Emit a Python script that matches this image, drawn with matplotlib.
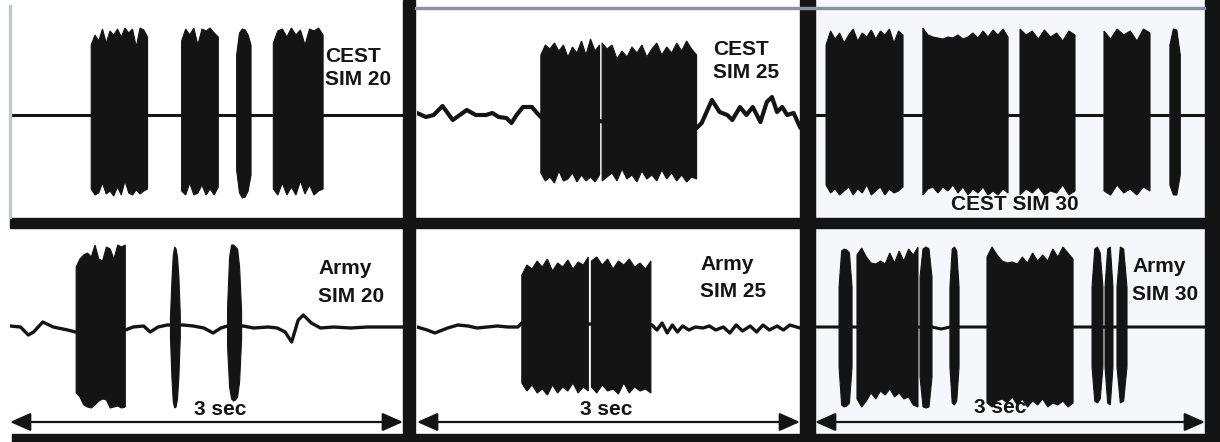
import numpy as np
import matplotlib
matplotlib.use('Agg')
import matplotlib.pyplot as plt
from matplotlib.patches import Rectangle

plt.rcParams['font.family'] = ['Liberation Sans', 'DejaVu Sans']

# time axis of every trace: 0..3 sec, amplitude in arbitrary units (baseline = 0)
# bursts: (start sec, end sec, upper envelope, lower envelope)

# CEST SIM 20
cest20_base_t = [0.0, 3.0]
cest20_base_y = [0, 0]
cest20_bursts = [
    (0.62, 1.05, [70, 80, 74, 86, 72, 84, 80, 86, 78, 87, 82, 86, 68, 87, 85, 78],
                 [74, 80, 78, 68, 79, 76, 81, 72, 80, 66, 78, 80, 75, 79, 76, 74]),
    (1.31, 1.59, [74, 86, 80, 87, 70, 86, 84, 87, 82, 78],
                 [76, 80, 68, 80, 78, 70, 80, 74, 80, 72]),
    (1.73, 1.84, [60, 82, 86, 85, 80, 70], [55, 78, 83, 82, 76, 60]),
    (2.01, 2.39, [72, 84, 86, 78, 87, 80, 85, 70, 86, 84, 87, 80],
                 [74, 80, 68, 80, 72, 80, 66, 79, 70, 80, 76, 74]),
]

# CEST SIM 25
cest25_base_t = [0.0, 0.07, 0.13, 0.20, 0.28, 0.39, 0.46, 0.54, 0.59, 0.64, 0.70, 0.74,
                 0.78, 0.83, 0.90, 0.94, 0.97,
                 2.19, 2.23, 2.31, 2.37, 2.43, 2.47, 2.53, 2.58, 2.63, 2.69, 2.74, 2.78,
                 2.82, 2.86, 2.90, 2.95, 3.0]
cest25_base_y = [2, -2, 0, 9, -5, 5, 0, 0, 2, -2, -3, -8, 0, 8, 8, 2, -2,
                 -13, -8, 15, 3, 0, -5, 8, 0, 8, -7, 13, 18, 3, 8, 0, 2, -12]
cest25_bursts = [
    (0.97, 1.43, [60, 70, 66, 72, 64, 70, 58, 68, 62, 74, 60, 76, 64, 70],
                 [58, 66, 62, 68, 56, 66, 64, 58, 67, 60, 66, 62, 67, 60]),
    (1.45, 2.19, [72, 66, 70, 56, 64, 58, 68, 62, 70, 58, 66, 72, 60, 68, 62, 72, 64, 74, 66, 60],
                 [66, 62, 58, 66, 54, 64, 60, 67, 56, 64, 60, 66, 55, 64, 58, 66, 60, 67, 62, 64]),
]

# CEST SIM 30
cest30_base_t = [0.0, 3.0]
cest30_base_y = [0, 0]
cest30_bursts = [
    (0.085, 0.677, [70, 84, 76, 82, 72, 80, 86, 74, 82, 78, 85, 76, 84, 80, 86, 72, 84, 80],
                   [70, 78, 74, 80, 76, 72, 80, 74, 78, 70, 80, 76, 72, 80, 74, 78, 76, 72]),
    (0.83, 1.485, [87, 80, 78, 77, 76, 78, 77, 80, 76, 78, 82, 77, 84, 78, 85, 80, 86, 78],
                  [80, 74, 72, 78, 72, 76, 70, 78, 72, 80, 74, 78, 72, 80, 76, 80, 74, 78]),
    (1.577, 2.0, [86, 80, 84, 76, 85, 78, 82, 74, 84, 80],
                 [80, 74, 78, 72, 80, 76, 78, 70, 80, 76]),
    (2.223, 2.577, [84, 76, 86, 80, 84, 74, 86, 82], [76, 80, 70, 78, 74, 80, 72, 76]),
    (2.73, 2.81, [70, 86, 85, 60], [70, 80, 80, 60]),
]

# Army SIM 20
army20_base_t = [0.0, 0.08, 0.14, 0.18, 0.25, 0.33, 0.44, 0.50, 0.88, 0.94, 1.02, 1.07,
                 1.13, 1.20, 1.32, 1.40, 1.48, 1.55, 1.61, 1.66, 1.78, 1.86, 1.97, 2.04,
                 2.10, 2.15, 2.20, 2.24, 2.30, 2.37, 2.47, 2.60, 2.73, 2.86, 3.0]
army20_base_y = [1, 0, -8, -5, 5, 0, -3, -5, -3, 0, 1, -5,
                 0, 2, 2, 1, -1, -6, -1, 1, 1, -1, 0, -1,
                 -5, -15, 7, 12, 4, -1, 0, -1, 0, 0, 0]
army20_bursts = [
    (0.505, 0.88, [60, 68, 72, 74, 70, 82, 68, 66, 80, 78, 68, 82, 80, 82],
                  [66, 70, 78, 80, 81, 78, 74, 72, 73, 81, 80, 79, 81, 80]),
    (1.225, 1.30, [10, 45, 72, 80, 78, 70, 50, 12], [10, 50, 75, 81, 80, 72, 50, 10]),
    (1.661, 1.768, [20, 70, 82, 82, 80, 78, 60, 15], [20, 60, 72, 74, 73, 70, 55, 12]),
]

# Army SIM 25
army25_base_t = [0.0, 0.08, 0.14, 0.24, 0.32, 0.40, 0.47, 0.55, 0.63, 0.71, 0.79, 0.82,
                 1.84, 1.88, 1.92, 1.96, 2.0, 2.04, 2.08, 2.13, 2.18, 2.24, 2.29, 2.34,
                 2.40, 2.45, 2.50, 2.55, 2.61, 2.66, 2.71, 2.76, 2.82, 2.87, 2.92, 3.0]
army25_base_y = [0, -3, -6, -1, 2, 1, -1, 0, 1, 0, 0, 4,
                 2, -3, 4, -6, 2, -5, 1, -3, 0, -1, 1, -3,
                 0, -6, 2, -4, 1, -5, 2, -3, 1, -3, 2, -1]
army25_bursts = [
    (0.821, 1.342, [52, 62, 58, 66, 60, 68, 56, 64, 60, 67, 58, 65, 62, 70],
                   [56, 64, 58, 66, 62, 68, 58, 66, 60, 64, 56, 66, 60, 64]),
    (1.366, 1.832, [66, 70, 62, 68, 58, 66, 62, 68, 60, 64, 58, 66],
                   [60, 66, 58, 64, 62, 67, 56, 66, 60, 64, 62, 66]),
]

# Army SIM 30
army30_base_t = [0.0, 0.9, 0.97, 1.04, 3.0]
army30_base_y = [0, 0, -2, 0, 0]
army30_bursts = [
    (0.185, 0.285, [40, 76, 78, 77, 74, 40], [40, 78, 80, 79, 76, 40]),
    (0.323, 0.792, [72, 79, 70, 64, 63, 66, 63, 74, 64, 76, 66, 78, 72, 80],
                   [72, 80, 74, 66, 72, 64, 68, 62, 70, 66, 72, 70, 78, 80]),
    (0.808, 0.90, [50, 78, 80, 78, 50], [50, 80, 81, 80, 50]),
    (1.038, 1.108, [40, 78, 80, 76, 40], [40, 76, 78, 74, 40]),
    (1.323, 1.985, [70, 80, 72, 66, 64, 65, 63, 70, 64, 74, 66, 72, 66, 78, 70, 80, 74, 68],
                   [76, 80, 74, 72, 76, 70, 78, 72, 80, 74, 78, 72, 80, 76, 78, 74, 80, 76]),
    (2.131, 2.215, [40, 78, 80, 74, 40], [40, 74, 76, 72, 40]),
    (2.231, 2.292, [40, 78, 80, 40], [40, 76, 78, 40]),
    (2.323, 2.40, [40, 80, 78, 40], [40, 76, 74, 40]),
]

W, H = 1220, 442
INK = '#141414'


def px_rect(x0, y0, x1, y1):
    # pixel box (top-left origin) -> figure fraction rect
    return [x0 / W, 1 - y1 / H, (x1 - x0) / W, (y1 - y0) / H]


def draw_trace(ax, base_t, base_y, bursts, lw):
    ax.plot(base_t, base_y, color=INK, lw=lw, solid_joinstyle='round', zorder=2)
    for t0, t1, tops, bots in bursts:
        tt = np.linspace(t0, t1, len(tops))
        tb = np.linspace(t0, t1, len(bots))
        xs = np.r_[tt, tb[::-1]]
        ys = np.r_[np.array(tops), -np.array(bots)[::-1]]
        ax.fill(xs, ys, color=INK, lw=0.8, ec=INK, zorder=3)


fig = plt.figure(figsize=(12.2, 4.42), dpi=100)
fig.patch.set_facecolor('white')

# (trace data, pixel box, baseline pixel row, line width, tinted background)
panels = [
    (cest20_base_t, cest20_base_y, cest20_bursts, (10, 0, 403, 218), 115, 2.2, False),
    (cest25_base_t, cest25_base_y, cest25_bursts, (417, 0, 800, 218), 115, 3.0, False),
    (cest30_base_t, cest30_base_y, cest30_bursts, (815, 0, 1205, 218), 115, 2.2, True),
    (army20_base_t, army20_base_y, army20_bursts, (10, 228, 403, 434), 327, 2.4, False),
    (army25_base_t, army25_base_y, army25_bursts, (417, 228, 800, 434), 327, 2.4, False),
    (army30_base_t, army30_base_y, army30_bursts, (815, 228, 1205, 434), 327, 2.2, True),
]

axes = []
for bt, by, bursts, box, base_px, lw, tint in panels:
    x0, y0, x1, y1 = box
    ax = fig.add_axes(px_rect(x0, y0, x1, y1))
    ax.set_xlim(0, 3)
    ax.set_ylim(-(y1 - base_px), base_px - y0)
    ax.set_axis_off()
    if tint:
        ax.add_patch(Rectangle((0, 0), 1, 1, transform=ax.transAxes,
                               color='#f6f7fa', zorder=0))
    draw_trace(ax, bt, by, bursts, lw)
    axes.append(ax)

# 3 sec scale arrows on the bottom row
for ax in axes[3:]:
    ax.annotate('', xy=(3.0, -95), xytext=(0.0, -95),
                arrowprops=dict(arrowstyle='<|-|>,head_length=0.9,head_width=0.4',
                                color=INK, lw=1.6, shrinkA=0, shrinkB=0,
                                mutation_scale=14), zorder=4)

# frame bars of the scanned figure
bars = [
    (10, 218, 1220, 228),
    (12, 434, 1220, 442),
    (403, 0, 415, 442),
    (800, 0, 815, 442),
    (1205, 0, 1220, 442),
]
for x0, y0, x1, y1 in bars:
    r = px_rect(x0, y0, x1, y1)
    fig.add_artist(Rectangle((r[0], r[1]), r[2], r[3], transform=fig.transFigure,
                             color=INK, zorder=5))
r = px_rect(415, 7, 1205, 9)
fig.add_artist(Rectangle((r[0], r[1]), r[2], r[3], transform=fig.transFigure,
                         color='#8c90a4', zorder=5))
r = px_rect(9, 5, 10.5, 218)
fig.add_artist(Rectangle((r[0], r[1]), r[2], r[3], transform=fig.transFigure,
                         color='#c4c8c8', zorder=5))

# labels (pixel x, baseline pixel y)
txt = dict(fontsize=15, fontweight='bold', color=INK, va='baseline', zorder=6)
labels = [
    ('CEST', 325, 62, 'left'), ('SIM 20', 325, 85, 'left'),
    ('CEST', 713, 55, 'left'), ('SIM 25', 713, 78, 'left'),
    ('CEST SIM 30', 1015, 210, 'center'),
    ('Army', 318, 274, 'left'), ('SIM 20', 318, 302, 'left'),
    ('Army', 700, 270, 'left'), ('SIM 25', 700, 297, 'left'),
    ('Army', 1132, 272, 'left'), ('SIM 30', 1132, 300, 'left'),
    ('3 sec', 220, 415, 'center'), ('3 sec', 606, 415, 'center'),
    ('3 sec', 1000, 413, 'center'),
]
for s, x, y, ha in labels:
    fig.text(x / W, 1 - y / H, s, ha=ha, **txt)

fig.savefig('out.png', dpi=100, facecolor='white')
